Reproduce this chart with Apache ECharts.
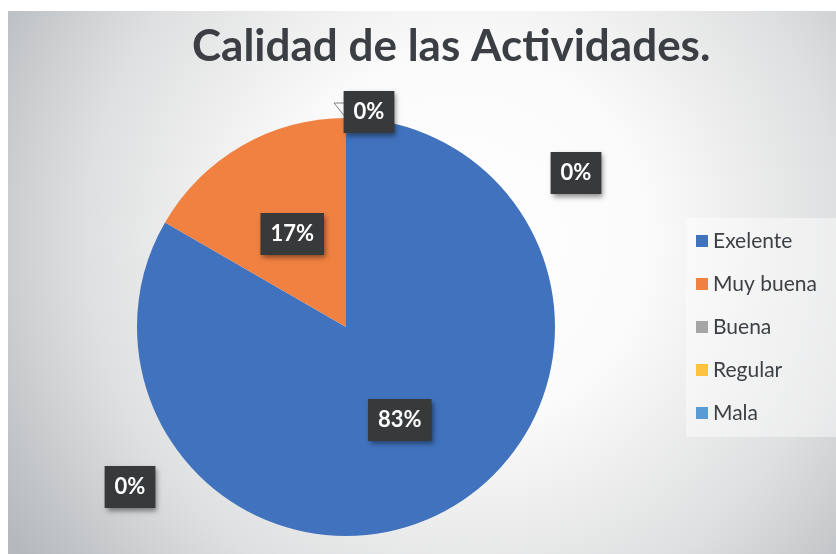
<!DOCTYPE html>
<html lang="es">
<head>
  <meta charset="UTF-8">
  <title>Calidad de las Actividades</title>
  <script src="https://cdn.jsdelivr.net/npm/echarts@6/dist/echarts.min.js"></script>
  <style>
    body { margin: 0; background: #fff; }
    #main { position: absolute; left: 8px; top: 11px; width: 828px; height: 543px; }
  </style>
</head>
<body>
  <div id="main"></div>
  <script type="text/javascript">
    var categorias = ['Exelente', 'Muy buena', 'Buena', 'Regular', 'Mala'];
    var valores = [5, 1, 0, 0, 0];
    var colores = ['#4072bd', '#f08141', '#a5a5a5', '#fcc240', '#5b9bd5'];

    // centro y radio del pastel (px dentro del div)
    var cx = 338, cy = 316, radio = 209;
    // las etiquetas de 0% estan movidas a mano: desplazamiento desde el centro
    var movidas = { 2: [23, -215], 3: [230, -154], 4: [-216, 160] };

    var datos = categorias.map(function (nombre, i) {
      var d = { name: nombre, value: valores[i], itemStyle: { color: colores[i] } };
      if (i == 2) {
        d.label = { position: 'outside' };
        d.labelLine = { show: true, lineStyle: { color: '#7f7f7f', width: 1 } };
      }
      return d;
    });

    var myChart = echarts.init(document.getElementById('main'));
    var option = {
      graphic: [{
        type: 'rect',
        z: -10,
        shape: { x: 0, y: 0, width: 828, height: 543 },
        style: {
          fill: {
            type: 'radial', x: 0.55, y: 0.42, r: 1.0,
            colorStops: [
              { offset: 0, color: '#ffffff' },
              { offset: 0.35, color: '#fafafa' },
              { offset: 0.7, color: '#dedfe0' },
              { offset: 1, color: '#b5b9bc' }
            ]
          }
        },
        silent: true
      }],
      title: {
        text: 'Calidad de las Actividades.',
        left: 179,
        top: 9,
        textStyle: {
          fontFamily: 'Lato',
          fontWeight: 'bold',
          fontSize: 44,
          color: '#3b3e42'
        }
      },
      legend: {
        orient: 'vertical',
        left: 678,
        top: 207,
        padding: [12, 30, 13, 10],
        backgroundColor: 'rgba(255,255,255,0.45)',
        itemWidth: 12,
        itemHeight: 12,
        itemGap: 21,
        icon: 'rect',
        data: categorias,
        textStyle: {
          fontFamily: 'Lato',
          fontSize: 21,
          lineHeight: 22,
          color: '#3d4045'
        }
      },
      series: [{
        type: 'pie',
        center: [cx, cy],
        radius: radio,
        startAngle: 90,
        clockwise: true,
        animation: false,
        silent: true,
        data: datos,
        label: {
          show: true,
          position: 'inside',
          formatter: function (p) { return Math.round(p.percent) + '%'; },
          fontFamily: 'Lato',
          fontWeight: 'bold',
          fontSize: 22,
          lineHeight: 22,
          color: '#ffffff',
          backgroundColor: '#37393b',
          padding: [11, 10, 9, 10],
          shadowColor: 'rgba(0,0,0,0.45)',
          shadowBlur: 5,
          shadowOffsetX: 2,
          shadowOffsetY: 3
        },
        labelLine: { show: false },
        labelLayout: function (params) {
          var m = movidas[params.dataIndex];
          if (!m) return {};
          var res = {
            x: cx + m[0],
            y: cy + m[1],
            align: 'center',
            verticalAlign: 'middle'
          };
          if (params.dataIndex == 2) {
            res.labelLinePoints = [
              [cx, cy - radio],
              [cx - 12, cy - radio - 15],
              [cx, cy - radio - 15]
            ];
          }
          return res;
        }
      }]
    };
    myChart.setOption(option);
  </script>
</body>
</html>
